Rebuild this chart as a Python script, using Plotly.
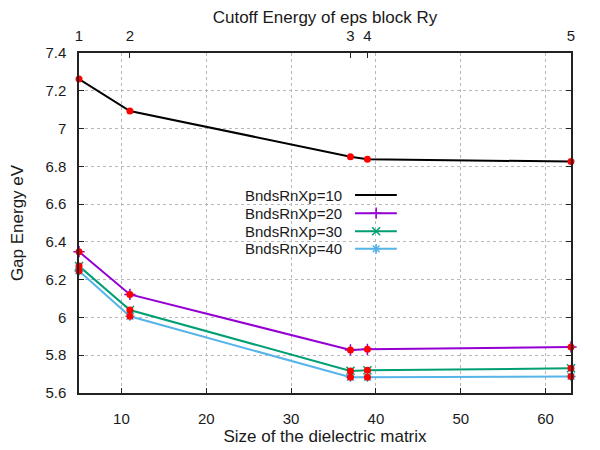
import plotly.graph_objects as go

# matrix size (bottom axis) and cutoff index (top axis)
matrix_size = [5, 11, 37, 39, 63]
cutoff_labels = ["1", "2", "3", "4", "5"]

# gap energy for each BndsRnXp
gap_10 = [7.262, 7.093, 6.851, 6.838, 6.825]
gap_20 = [6.348, 6.122, 5.828, 5.831, 5.844]
gap_30 = [6.272, 6.039, 5.717, 5.720, 5.731]
gap_40 = [6.246, 6.006, 5.683, 5.683, 5.688]

series_names = ["BndsRnXp=10", "BndsRnXp=20", "BndsRnXp=30", "BndsRnXp=40"]

y_ticks = [5.6, 5.8, 6.0, 6.2, 6.4, 6.6, 6.8, 7.0, 7.2, 7.4]
y_ticktext = ["5.6", "5.8", "6", "6.2", "6.4", "6.6", "6.8", "7", "7.2", "7.4"]
x_ticks = [10, 20, 30, 40, 50, 60]

colors = ["#000000", "#9400d3", "#009e73", "#56b4e9"]
symbols = [None, "cross-thin", "x-thin", "asterisk"]
FONT = "Liberation Sans, Arial, sans-serif"
TXT = "#1a1a1a"

fig = go.Figure()

all_series = [gap_10, gap_20, gap_30, gap_40]

for vals, col, sym in zip(all_series, colors, symbols):
    if sym is None:
        fig.add_trace(go.Scatter(x=matrix_size, y=vals, mode="lines",
                                 line=dict(color=col, width=2), showlegend=False))
    else:
        fig.add_trace(go.Scatter(x=matrix_size, y=vals, mode="lines+markers",
                                 line=dict(color=col, width=2), cliponaxis=False,
                                 marker=dict(symbol=sym, size=8,
                                             line=dict(color=col, width=1.5)),
                                 showlegend=False))

# red dots on top of every point
for vals in all_series:
    fig.add_trace(go.Scatter(x=matrix_size, y=vals, mode="markers", cliponaxis=False,
                             marker=dict(color="#ff0000", size=7),
                             showlegend=False))

# dummy trace to enable the top axis
fig.add_trace(go.Scatter(x=matrix_size, y=gap_10, xaxis="x2", mode="markers",
                         marker=dict(opacity=0), showlegend=False, hoverinfo="skip"))

# hand-made legend (gnuplot style: text left, sample right)
leg_y = [0.582, 0.529, 0.476, 0.424]
for name, col, sym, ly in zip(series_names, colors, symbols, leg_y):
    fig.add_trace(go.Scatter(x=[0.561, 0.646], y=[ly, ly], xaxis="x3", yaxis="y3",
                             mode="lines", line=dict(color=col, width=2),
                             showlegend=False, hoverinfo="skip"))
    if sym is not None:
        fig.add_trace(go.Scatter(x=[0.604], y=[ly], xaxis="x3", yaxis="y3",
                                 mode="markers",
                                 marker=dict(symbol=sym, size=8,
                                             line=dict(color=col, width=1.5)),
                                 showlegend=False, hoverinfo="skip"))
    fig.add_annotation(text=name, xref="paper", yref="paper", x=0.538, y=ly,
                       xanchor="right", yanchor="middle", showarrow=False,
                       font=dict(size=15, color=TXT))

axis_common = dict(showline=True, linecolor="#222222", linewidth=1.5,
                   ticks="inside", ticklen=5, tickcolor="#222222", zeroline=False,
                   automargin=False, tickfont=dict(size=15, color=TXT))

# the page body adds 8px around the plot, so the figure is a bit smaller
fig.update_layout(
    width=592, height=442,
    margin=dict(l=71, r=29, t=45, b=57),
    paper_bgcolor="white", plot_bgcolor="white",
    font=dict(family=FONT, size=14.5, color=TXT),
    showlegend=False,
    xaxis=dict(range=[5, 63], tickvals=x_ticks, showgrid=True,
               gridcolor="#b8b8b8", griddash="dot", gridwidth=1,
               title=dict(text="Size of the dielectric matrix", standoff=4),
               mirror=False, ticklabelstandoff=11, **axis_common),
    xaxis2=dict(range=[5, 63], overlaying="x", side="top", anchor="y",
                tickvals=matrix_size, ticktext=cutoff_labels, showgrid=False,
                title=dict(text="Cutoff Energy of eps block Ry", standoff=16),
                ticklabelstandoff=4, **axis_common),
    yaxis=dict(range=[5.6, 7.4], tickvals=y_ticks, ticktext=y_ticktext,
               showgrid=True, gridcolor="#b8b8b8", griddash="dot", gridwidth=1,
               title=dict(text="Gap Energy eV", standoff=24),
               mirror="ticks", ticklabelstandoff=8, **axis_common),
    xaxis3=dict(range=[0, 1], overlaying="x", visible=False, anchor="y3"),
    yaxis3=dict(range=[0, 1], overlaying="y", visible=False, anchor="x3"),
)

fig.write_html("out.html")
